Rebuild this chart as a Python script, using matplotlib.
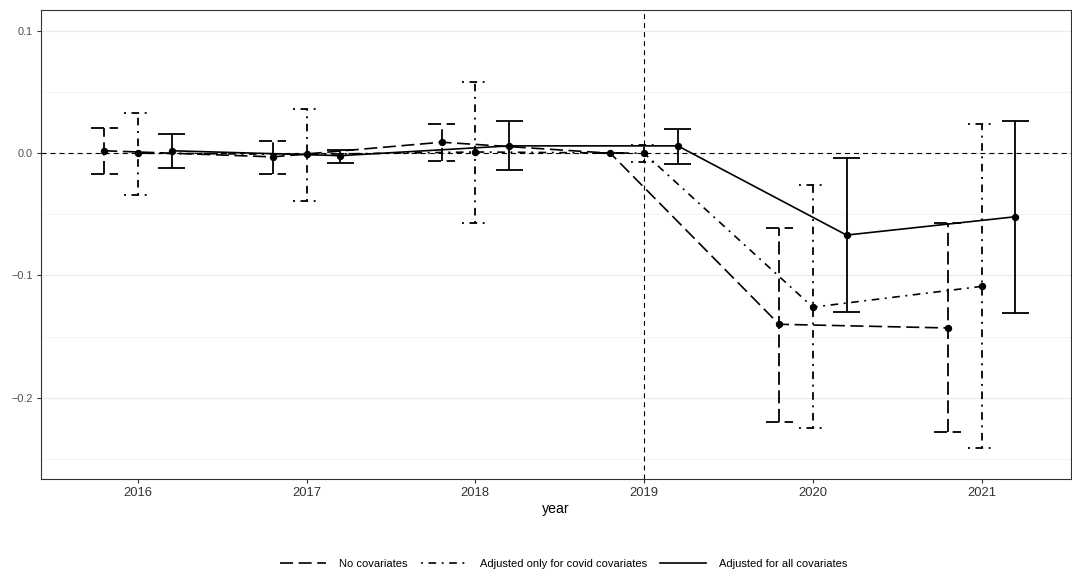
import numpy as np
import matplotlib
matplotlib.use("Agg")
import matplotlib.pyplot as plt

plt.rcParams["font.family"] = ["Liberation Sans", "DejaVu Sans"]
plt.rcParams["lines.scale_dashes"] = False

years = np.array([2016, 2017, 2018, 2019, 2020, 2021])
labels = ["No covariates", "Adjusted only for covid covariates", "Adjusted for all covariates"]

# estimates and confidence limits
est_none = [0.002, -0.003, 0.009, 0.0, -0.140, -0.143]
lo_none = [-0.017, -0.017, -0.006, 0.0, -0.220, -0.228]
hi_none = [0.021, 0.010, 0.024, 0.0, -0.061, -0.057]

est_covid = [0.0, -0.001, 0.001, 0.0, -0.126, -0.109]
lo_covid = [-0.034, -0.039, -0.057, -0.007, -0.225, -0.241]
hi_covid = [0.033, 0.036, 0.058, 0.007, -0.026, 0.024]

est_all = [0.002, -0.002, 0.006, 0.006, -0.067, -0.052]
lo_all = [-0.012, -0.008, -0.014, -0.009, -0.130, -0.131]
hi_all = [0.016, 0.003, 0.026, 0.020, -0.004, 0.026]

series = [
    (est_none, lo_none, hi_none, -0.2, (0, (9.4, 4.0))),
    (est_covid, lo_covid, hi_covid, 0.0, (0, (1.4, 4.0, 5.5, 4.0))),
    (est_all, lo_all, hi_all, 0.2, "solid"),
]

fig = plt.figure(figsize=(10.72, 5.74), dpi=100)
ax = fig.add_axes([0.0382, 0.1655, 0.9608, 0.8171])

ax.axhline(0, color="black", lw=0.8, ls=(0, (3.6, 2.9)), zorder=1)
ax.axvline(2019, color="black", lw=0.8, ls=(0, (3.6, 2.9)), zorder=1)

cap = 0.16
for (est, lo, hi, off, ls), lab in zip(series, labels):
    x = years + off
    ax.vlines(x, lo, hi, colors="black", lw=1.3, linestyles=[ls], zorder=3)
    ax.hlines(lo, x - cap / 2, x + cap / 2, colors="black", lw=1.3, linestyles=[ls], zorder=3)
    ax.hlines(hi, x - cap / 2, x + cap / 2, colors="black", lw=1.3, linestyles=[ls], zorder=3)
    ax.plot(x, est, color="black", lw=1.2, ls=ls, label=lab, zorder=3)
    ax.plot(x, est, "o", color="black", ms=4.3, ls="none", zorder=4)

ax.set_xlim(2015.425, 2021.53)
ax.set_ylim(-0.2666, 0.1172)
ax.set_xticks(years)
ax.set_yticks([-0.2, -0.1, 0.0, 0.1])
ax.set_yticklabels(["\u22120.2", "\u22120.1", "0.0", "0.1"])
ax.set_yticks([-0.25, -0.15, -0.05, 0.05], minor=True)
ax.grid(axis="y", which="major", color="#EBEBEB", lw=0.9)
ax.grid(axis="y", which="minor", color="#F2F2F2", lw=0.6)
ax.set_axisbelow(True)
ax.tick_params(which="major", length=3, color="#333333", labelcolor="#4D4D4D", pad=3)
ax.tick_params(axis="x", labelsize=9.4, labelcolor="#333333")
ax.tick_params(axis="y", labelsize=7.8)
ax.tick_params(which="minor", length=0)
for s in ax.spines.values():
    s.set_color("#333333")
    s.set_linewidth(0.8)
ax.set_xlabel("year", fontsize=10.2, labelpad=2)

fig.legend(loc="center", bbox_to_anchor=(0.526, 0.0174), ncol=3, frameon=False,
           fontsize=8, handlelength=4.1, columnspacing=1.2, handletextpad=1.2)

fig.savefig("out.png", dpi=100)
